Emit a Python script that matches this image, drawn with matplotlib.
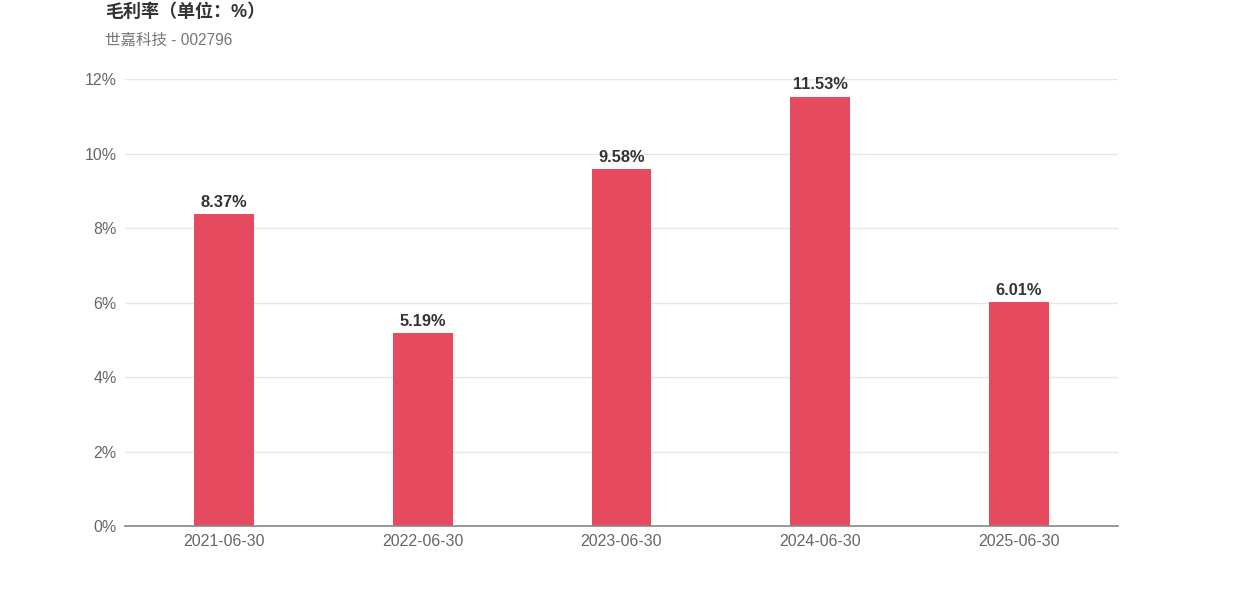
import matplotlib
matplotlib.use("Agg")
import matplotlib.pyplot as plt
import numpy as np

plt.rcParams["font.family"] = ["Liberation Sans", "Noto Sans CJK SC", "DejaVu Sans"]

dates = ["2021-06-30", "2022-06-30", "2023-06-30", "2024-06-30", "2025-06-30"]
margins = [8.37, 5.19, 9.58, 11.53, 6.01]
yticks = [0, 2, 4, 6, 8, 10, 12]

fig = plt.figure(figsize=(12.42, 5.96), dpi=100)
ax = fig.add_axes([0.1006, 0.1174, 0.7996, 0.75])

x = np.arange(len(dates))
ax.bar(x, margins, width=0.3, color="#e64a5e", zorder=3)

# value labels above bars
for xi, v in zip(x, margins):
    ax.annotate(f"{v:.2f}%", (xi, v), xytext=(0, 3), textcoords="offset points",
                ha="center", va="bottom", fontsize=11.8, fontweight="bold", color="#333333")

ax.set_xlim(-0.5, len(dates) - 0.5)
ax.set_ylim(0, 12)
ax.set_yticks(yticks)
ax.set_yticklabels([f"{t}%" for t in yticks])
ax.set_xticks(x)
ax.set_xticklabels(dates)
ax.tick_params(axis="both", length=0, labelsize=11.5, labelcolor="#666666")
ax.tick_params(axis="y", pad=6)
ax.tick_params(axis="x", pad=6)
ax.grid(axis="y", color="#e6e6e6", linewidth=1, zorder=0)

for side in ["top", "right", "left"]:
    ax.spines[side].set_visible(False)
ax.spines["bottom"].set_color("#888888")
ax.spines["bottom"].set_linewidth(1.2)
ax.spines["bottom"].set_zorder(4)

fig.text(105 / 1242, 1 - 12 / 596, "毛利率（单位：%）", fontsize=13, fontweight="bold",
         color="#333333", ha="left", va="center")
fig.text(105 / 1242, 1 - 40 / 596, "世嘉科技 - 002796", fontsize=11.2, color="#777777",
         ha="left", va="center")

fig.savefig("out.png", dpi=100)
